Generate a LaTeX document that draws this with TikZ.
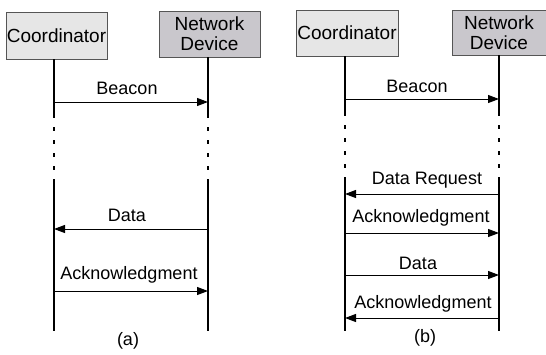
\documentclass[tikz,border=0pt]{standalone}
\usepackage{fontspec}
\setmainfont{Liberation Sans}
\usetikzlibrary{arrows.meta}

\definecolor{coordgray}{HTML}{E6E6E6}
\definecolor{devgray}{HTML}{C9C7CC}
\definecolor{edgegray}{HTML}{555555}

\tikzset{
  coordbox/.style={draw=edgegray,fill=coordgray,line width=0.5pt,inner sep=0pt,
    font=\fontsize{9.5}{10}\selectfont},
  devbox/.style={draw=edgegray,fill=devgray,line width=0.5pt,inner sep=0pt,align=center,
    font=\fontsize{9.5}{10}\selectfont},
  life/.style={line width=1.4pt},
  gap/.style={line width=1.1pt,dash pattern=on 2pt off 4.5pt},
  msg/.style={line width=0.5pt,-{Triangle[length=5.5pt,width=4pt]}},
  lbl/.style={anchor=base,inner sep=0pt,font=\fontsize{9}{10}\selectfont},
}

\begin{document}
\begin{tikzpicture}[x=0.5pt,y=-0.5pt]
\useasboundingbox (0,0) rectangle (546,354);

% (a)
\node[coordbox,minimum width=50.5pt,minimum height=23.5pt] (coordA) at (56.5,35.5) {Coordinator};
\node[devbox,minimum width=50.5pt,minimum height=23pt] (devA) at (209.5,34) {Network\\Device};

\coordinate (cA0) at (54,59);
\coordinate (cA1) at (54,114);
\coordinate (cA2) at (54,181);
\coordinate (cA3) at (54,331);
\coordinate (dA0) at (208,57);
\coordinate (dA1) at (208,114);
\coordinate (dA2) at (208,181);
\coordinate (dA3) at (208,331);

\draw[life] (cA0)--(cA1);
\draw[gap] (cA1)--(cA2);
\draw[life] (cA2)--(cA3);
\draw[life] (dA0)--(dA1);
\draw[gap] (dA1)--(dA2);
\draw[life] (dA2)--(dA3);

\coordinate (rA1) at (0,102);
\coordinate (rA2) at (0,229);
\coordinate (rA3) at (0,291);
\draw[msg] (cA0|-rA1)--(dA0|-rA1);
\draw[msg] (dA0|-rA2)--(cA0|-rA2);
\draw[msg] (cA0|-rA3)--(dA0|-rA3);

\node[lbl] (beaconA) at (127,94) {Beacon};
\node[lbl] (dataA) at (127,221) {Data};
\node[lbl] (ackA) at (129,279) {Acknowledgment};
\node[lbl] (capA) at (128,345) {(a)};

% (b)
\node[coordbox,minimum width=51pt,minimum height=23pt] (coordB) at (347,33) {Coordinator};
\node[devbox,minimum width=47pt,minimum height=22.5pt] (devB) at (499,32.5) {Network\\Device};

\coordinate (cB0) at (345,56);
\coordinate (cB1) at (345,112);
\coordinate (cB2) at (345,179);
\coordinate (cB3) at (345,331);
\coordinate (dB0) at (499,55);
\coordinate (dB1) at (499,112);
\coordinate (dB2) at (499,179);
\coordinate (dB3) at (499,331);

\draw[life] (cB0)--(cB1);
\draw[gap] (cB1)--(cB2);
\draw[life] (cB2)--(cB3);
\draw[life] (dB0)--(dB1);
\draw[gap] (dB1)--(dB2);
\draw[life] (dB2)--(dB3);

\coordinate (rB1) at (0,99);
\coordinate (rB2) at (0,194);
\coordinate (rB3) at (0,233);
\coordinate (rB4) at (0,275);
\coordinate (rB5) at (0,318);
\draw[msg] (cB0|-rB1)--(dB0|-rB1);
\draw[msg] (dB0|-rB2)--(cB0|-rB2);
\draw[msg] (cB0|-rB3)--(dB0|-rB3);
\draw[msg] (cB0|-rB4)--(dB0|-rB4);
\draw[msg] (dB0|-rB5)--(cB0|-rB5);

\node[lbl] (beaconB) at (417,92) {Beacon};
\node[lbl] (reqB) at (427,184) {Data Request};
\node[lbl] (ackB) at (421,222) {Acknowledgment};
\node[lbl] (dataB) at (418,269) {Data};
\node[lbl] (ack2B) at (423,308) {Acknowledgment};
\node[lbl] (capB) at (425,342) {(b)};
\end{tikzpicture}
\end{document}
